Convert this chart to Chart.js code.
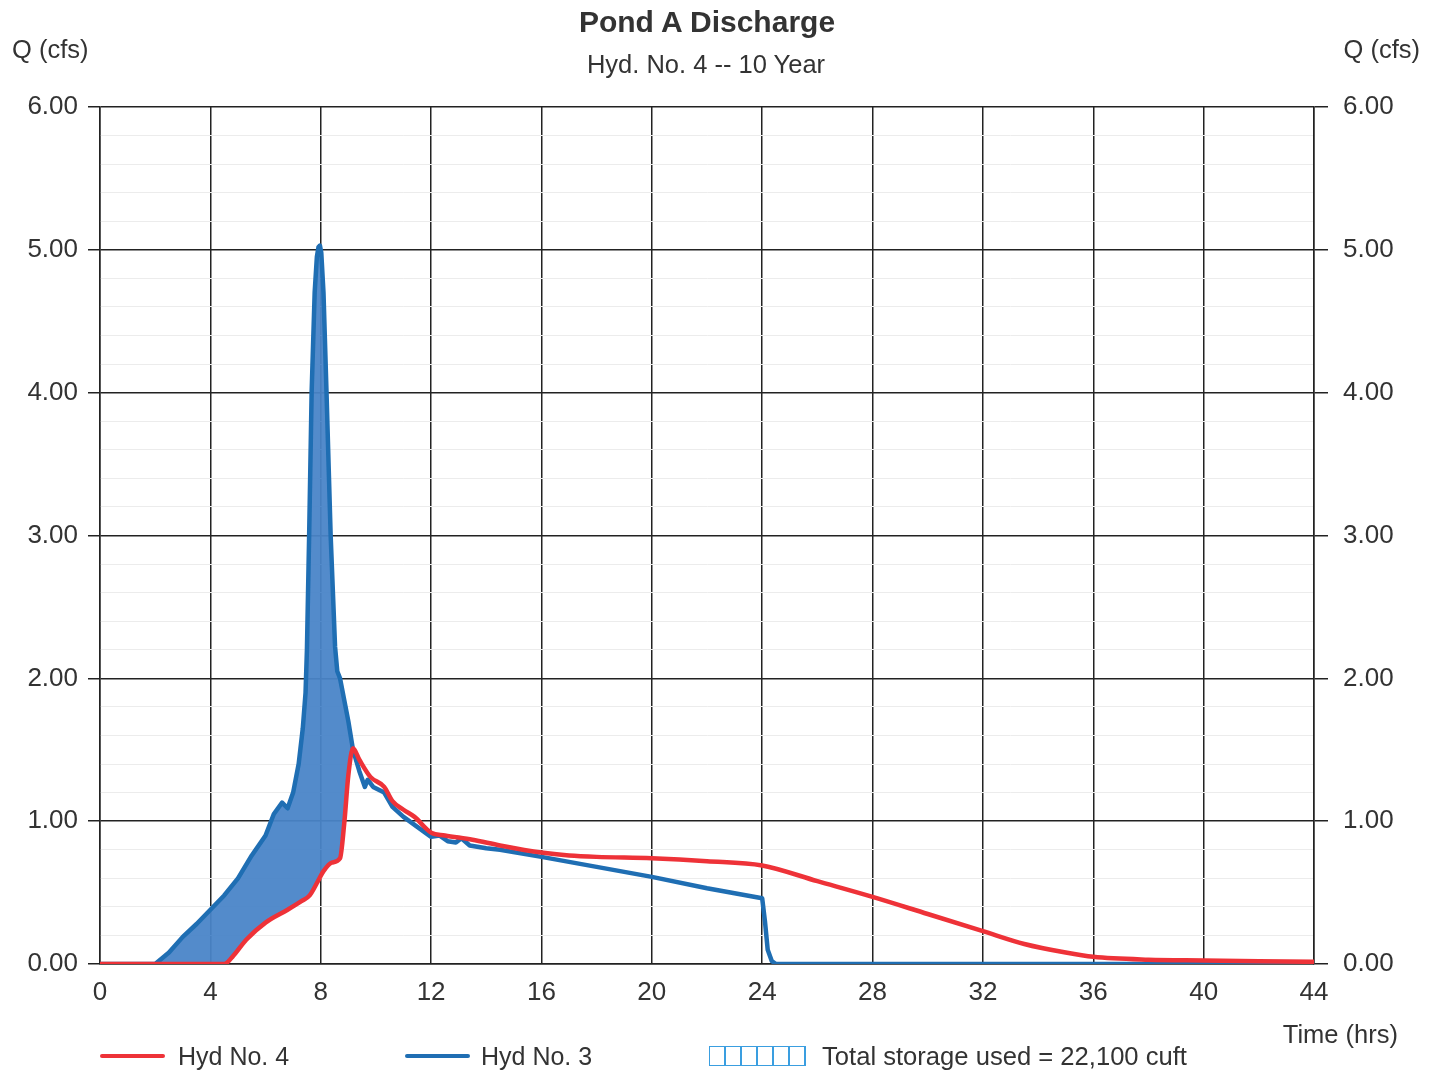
<!DOCTYPE html>
<html>
<head>
<meta charset="utf-8">
<title>Pond A Discharge</title>
<script src="https://cdn.jsdelivr.net/npm/chart.js@4.4.1/dist/chart.umd.min.js"></script>
<style>
    body { margin: 0; background: #fff; }
    #wrap { position: relative; width: 1439px; height: 1072px; font-family: "Liberation Sans", Arial, sans-serif; color: #333; }
    #wrap canvas { position: absolute; left: 0; top: 0; }
    .txt { position: absolute; white-space: nowrap; line-height: 1; }
    .swatch { position: absolute; height: 4px; border-radius: 2px; }
    .hatch {
        position: absolute; width: 97px; height: 20px; box-sizing: border-box;
        border: 1.5px solid #3a9ee0;
        background: repeating-linear-gradient(90deg, transparent 0, transparent 14.5px, #3a9ee0 14.5px, #3a9ee0 16px);
    }
</style>
</head>
<body>
<div id="wrap">
    <canvas id="pondChart" width="1439" height="1072"></canvas>
    <div class="txt" style="left:0;width:1414px;text-align:center;top:7px;font-size:30px;font-weight:bold;">Pond A Discharge</div>
    <div class="txt" style="left:0;width:1412px;text-align:center;top:52px;font-size:25.5px;">Hyd. No. 4 -- 10 Year</div>
    <div class="txt" style="left:12px;top:37px;font-size:25.5px;">Q (cfs)</div>
    <div class="txt" style="right:19px;top:37px;font-size:25.5px;">Q (cfs)</div>
    <div class="txt" style="right:41px;top:1022px;font-size:25.5px;">Time (hrs)</div>

    <div class="swatch" style="left:100px;top:1054px;width:65px;background:#ee3238;"></div>
    <div class="txt" style="left:178px;top:1044px;font-size:25px;">Hyd No. 4</div>
    <div class="swatch" style="left:405px;top:1054px;width:65px;background:#1f6eb3;"></div>
    <div class="txt" style="left:481px;top:1044px;font-size:25px;">Hyd No. 3</div>
    <div class="hatch" style="left:709px;top:1046px;"></div>
    <div class="txt" style="left:822px;top:1044px;font-size:25.6px;">Total storage used = 22,100 cuft</div>
</div>
<script>
// Hyd No. 4 (pond outflow)
const hyd4Time = [0, 4.5, 4.8, 5.3, 6.0, 6.8, 7.3, 7.6, 7.9, 8.1, 8.4, 8.7, 8.85, 9.0, 9.17, 9.4, 9.8, 10.3, 10.6, 11.0, 11.4, 12.0, 12.5, 13.5, 14.5, 16.0, 17.0, 18.0, 20.0, 22.0, 24.0, 26.0, 28.0, 30.0, 32.0, 33.5, 35.0, 36.0, 38.0, 40.0, 42.0, 44.0];
const hyd4Flow = [0, 0, 0.05, 0.17, 0.29, 0.38, 0.44, 0.48, 0.58, 0.65, 0.71, 0.74, 0.98, 1.32, 1.51, 1.43, 1.31, 1.24, 1.14, 1.08, 1.03, 0.92, 0.90, 0.87, 0.83, 0.78, 0.76, 0.75, 0.74, 0.72, 0.69, 0.58, 0.47, 0.35, 0.23, 0.14, 0.08, 0.05, 0.03, 0.025, 0.02, 0.015];

// Hyd No. 3 (pond inflow)
const hyd3Time = [0, 2.0, 2.5, 3.0, 3.5, 4.0, 4.5, 5.0, 5.5, 6.0, 6.3, 6.6, 6.8, 7.0, 7.2, 7.35, 7.45, 7.5, 7.58, 7.67, 7.78, 7.86, 7.92, 7.97, 8.02, 8.1, 8.21, 8.36, 8.52, 8.6, 8.7, 9.0, 9.17, 9.4, 9.6, 9.7, 9.9, 10.3, 10.6, 11.0, 11.5, 12.0, 12.3, 12.6, 12.9, 13.1, 13.4, 14.0, 14.5, 16.0, 18.0, 20.0, 22.0, 24.0, 24.1, 24.2, 24.35, 24.5, 44.0];
const hyd3Flow = [0, 0, 0.08, 0.19, 0.28, 0.38, 0.48, 0.60, 0.76, 0.90, 1.05, 1.13, 1.09, 1.20, 1.40, 1.65, 1.90, 2.20, 3.00, 4.00, 4.70, 4.95, 5.02, 5.03, 4.98, 4.70, 4.00, 3.00, 2.22, 2.05, 2.00, 1.70, 1.50, 1.35, 1.24, 1.29, 1.24, 1.20, 1.10, 1.03, 0.96, 0.89, 0.90, 0.86, 0.85, 0.88, 0.83, 0.81, 0.80, 0.75, 0.68, 0.61, 0.53, 0.46, 0.30, 0.10, 0.02, 0, 0];

const timeTicks = [0, 4, 8, 12, 16, 20, 24, 28, 32, 36, 40, 44];
const flowTicks = [0, 1, 2, 3, 4, 5, 6];

const toPoints = (xs, ys) => xs.map((x, i) => ({ x: x, y: ys[i] }));
const isMajor = v => Math.abs(v - Math.round(v)) < 1e-6;
const fmt = v => Number(v).toFixed(2);

const tickFont = { family: '"Liberation Sans", Arial, sans-serif', size: 26 };

const ctx = document.getElementById('pondChart').getContext('2d');

new Chart(ctx, {
    type: 'line',
    data: {
        datasets: [
            {
                label: 'Hyd No. 4',
                data: toPoints(hyd4Time, hyd4Flow),
                borderColor: '#ee3238',
                borderWidth: 4.5,
                pointRadius: 0,
                cubicInterpolationMode: 'monotone',
                fill: false,
                order: 0
            },
            {
                label: 'Hyd No. 3',
                data: toPoints(hyd3Time, hyd3Flow),
                borderColor: '#1f6eb3',
                borderWidth: 4.5,
                pointRadius: 0,
                tension: 0,
                borderJoinStyle: 'round',
                fill: { target: 0, above: 'rgba(74, 133, 200, 0.95)', below: 'rgba(0,0,0,0)' },
                order: 1
            }
        ]
    },
    options: {
        responsive: false,
        animation: false,
        layout: { padding: { top: 107, left: 0, right: 0, bottom: 0 } },
        plugins: {
            legend: { display: false },
            tooltip: { enabled: false }
        },
        scales: {
            x: {
                type: 'linear',
                min: 0,
                max: 44,
                afterBuildTicks: scale => { scale.ticks = timeTicks.map(v => ({ value: v })); },
                afterFit: scale => { scale.height = 108; },
                ticks: { font: tickFont, color: '#333', padding: 13, maxRotation: 0, autoSkip: false },
                grid: { color: '#222', lineWidth: 1.5, drawTicks: false },
                border: { color: '#222', width: 1.5 }
            },
            y: {
                position: 'left',
                min: 0,
                max: 6,
                ticks: {
                    stepSize: 0.2,
                    font: tickFont,
                    color: '#333',
                    padding: 10,
                    autoSkip: false,
                    callback: v => (isMajor(v) ? fmt(v) : '')
                },
                afterFit: scale => { scale.width = 100; },
                grid: {
                    color: c => (isMajor(c.tick.value) ? '#222' : '#ececec'),
                    lineWidth: c => (isMajor(c.tick.value) ? 1.5 : 1),
                    tickColor: c => (isMajor(c.tick.value) ? '#222' : 'rgba(0,0,0,0)'),
                    tickLength: 12
                },
                border: { color: '#222', width: 1.5 }
            },
            y2: {
                position: 'right',
                min: 0,
                max: 6,
                afterBuildTicks: scale => { scale.ticks = flowTicks.map(v => ({ value: v })); },
                ticks: { font: tickFont, color: '#333', padding: 15, callback: v => fmt(v) },
                afterFit: scale => { scale.width = 125; },
                grid: { drawOnChartArea: false, color: '#222', lineWidth: 1.5, tickLength: 14 },
                border: { color: '#222', width: 1.5 }
            }
        }
    }
});
</script>
</body>
</html>
